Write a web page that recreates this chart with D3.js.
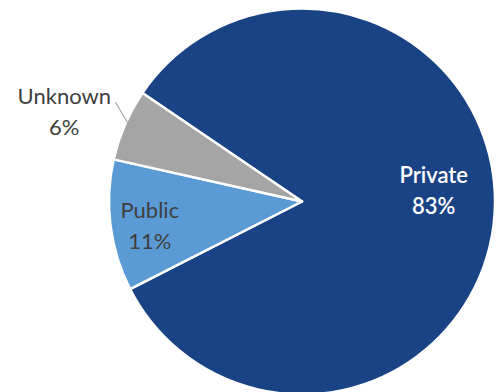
<!DOCTYPE html>
<html>
<head>
<meta charset="utf-8">
<script src="https://cdn.jsdelivr.net/npm/d3@7"></script>
<style>
  html, body { margin: 0; padding: 0; background: #fff; }
  svg { display: block; }
  text { font-family: Lato, "Open Sans", sans-serif; }
</style>
</head>
<body>
<svg id="chart" width="499" height="392"></svg>
<script>
// Share of sites by ownership type (percent)
const categories = ["Private", "Public", "Unknown"];
const shares = [83, 11, 6];
const sliceColors = ["#1a4385", "#5b9bd5", "#a5a5a5"];
const labelColors = ["#ffffff", "#404040", "#404040"];

const width = 499, height = 392;
const cx = 302, cy = 201.5, radius = 193;

const svg = d3.select("#chart");
const g = svg.append("g").attr("transform", `translate(${cx},${cy})`);

const data = categories.map((c, i) => ({ name: c, value: shares[i], color: sliceColors[i], labelColor: labelColors[i] }));

// Private slice starts in the upper left and runs clockwise
const start = -55.8 * Math.PI / 180;
const pie = d3.pie().sort(null).value(d => d.value)
  .startAngle(start).endAngle(start + 2 * Math.PI);
const arcs = pie(data);

const arc = d3.arc().innerRadius(0).outerRadius(radius);

g.selectAll("path.slice")
  .data(arcs)
  .join("path")
  .attr("class", "slice")
  .attr("d", arc)
  .attr("fill", d => d.data.color)
  .attr("stroke", "#ffffff")
  .attr("stroke-width", 2.5)
  .attr("stroke-linejoin", "round");

// Label placement: Private and Public inside, Unknown outside with a leader line
const fontSize = 22;
const lineGap = 30.5;
const labelPos = {
  Private: { x: 433.7 - cx, y: 183.3 - cy },
  Public:  { x: 149.8 - cx, y: 218.3 - cy },
  Unknown: { x: 64.3 - cx,  y: 104 - cy }
};

// leader line for the outside label
const unk = arcs.find(a => a.data.name === "Unknown");
const midA = (unk.startAngle + unk.endAngle) / 2;
const edge = [Math.sin(midA) * (radius - 6), -Math.cos(midA) * (radius - 6)];
g.append("line")
  .attr("x1", 115.3 - cx).attr("y1", 102 - cy)
  .attr("x2", edge[0]).attr("y2", edge[1])
  .attr("stroke", "#a6a6a6")
  .attr("stroke-width", 1.2);

const labels = g.selectAll("text.lbl")
  .data(arcs)
  .join("text")
  .attr("class", "lbl")
  .attr("text-anchor", "middle")
  .attr("font-size", fontSize)
  .attr("fill", d => d.data.labelColor)
  .attr("font-weight", d => d.data.name === "Private" ? 600 : 400);

labels.append("tspan")
  .attr("x", d => labelPos[d.data.name].x)
  .attr("y", d => labelPos[d.data.name].y)
  .text(d => d.data.name);

labels.append("tspan")
  .attr("x", d => labelPos[d.data.name].x)
  .attr("y", d => labelPos[d.data.name].y + lineGap)
  .text(d => d3.format(".0f")(d.data.value) + "%");
</script>
</body>
</html>
